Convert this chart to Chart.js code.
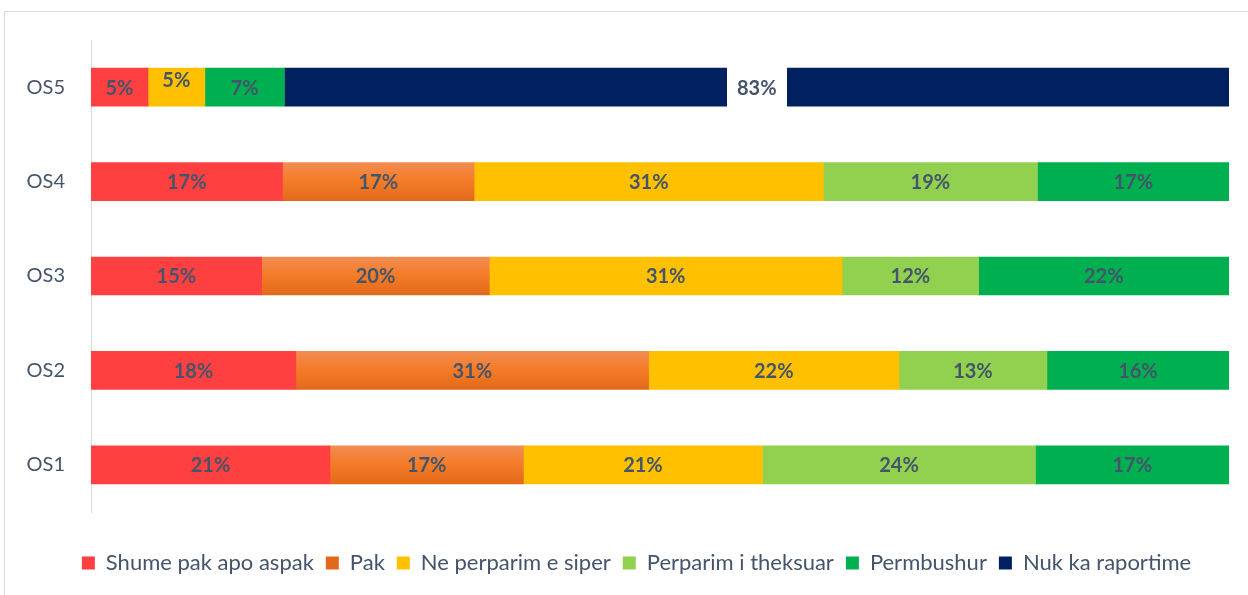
<!DOCTYPE html>
<html>
<head>
<meta charset="utf-8">
<script src="https://cdn.jsdelivr.net/npm/chart.js@4/dist/chart.umd.min.js"></script>
<style>
  html, body { margin: 0; padding: 0; background: #fff; overflow: hidden; }
  #frame { position: absolute; left: 4px; top: 11px; width: 1260px; height: 600px; border: 1px solid #D9D9D9; box-sizing: border-box; }
  #wrap { position: absolute; left: 0; top: 0; width: 1248px; height: 595px; }
</style>
</head>
<body>
<div id="frame"></div>
<div id="wrap"><canvas id="chart"></canvas></div>
<script>
const categories = ['OS5', 'OS4', 'OS3', 'OS2', 'OS1'];
const seriesNames = ['Shume pak apo aspak', 'Pak', 'Ne perparim e siper', 'Perparim i theksuar', 'Permbushur', 'Nuk ka raportime'];
const shumePak   = [5, 17, 15, 18, 21];
const pak        = [0, 17, 20, 31, 17];
const nePerparim = [5, 31, 31, 22, 21];
const theksuar   = [0, 19, 12, 13, 24];
const permbushur = [7, 17, 22, 16, 17];
const nukKa      = [83, 0, 0, 0, 0];

const colors = ['#FF4040', null, '#FFC000', '#92D050', '#00B050', '#002060'];
const labelColor = '#44546A';
const fontFamily = 'Lato, "Open Sans", sans-serif';

const rows = [shumePak, pak, nePerparim, theksuar, permbushur, nukKa];
// 100% stacked: share of each row total
const totals = categories.map((c, i) => rows.reduce((s, r) => s + r[i], 0));

function pakGradient(ctx) {
  if (ctx.type !== 'data') return '#F0803A';
  const chart = ctx.chart;
  const y = chart.scales.y;
  if (!y || !chart.chartArea) return '#F0803A';
  const cy = y.getPixelForValue(ctx.dataIndex);
  const g = chart.ctx.createLinearGradient(0, cy - 19, 0, cy + 19);
  g.addColorStop(0, '#F28C51');
  g.addColorStop(0.5, '#F47B26');
  g.addColorStop(1, '#E2691A');
  return g;
}

const datasets = rows.map((r, k) => ({
  label: seriesNames[k],
  data: r.map((v, i) => v / totals[i] * 100),
  raw: r,
  backgroundColor: k === 1 ? pakGradient : colors[k],
  borderWidth: 0,
  barThickness: 38
}));

// small label shifts as seen in the original
const labelShift = { '2-0': -8 };

const valueLabels = {
  id: 'valueLabels',
  afterDatasetsDraw(chart) {
    const c = chart.ctx;
    c.save();
    c.font = 'bold 20px ' + fontFamily;
    c.textAlign = 'center';
    c.textBaseline = 'middle';
    chart.data.datasets.forEach((ds, k) => {
      const meta = chart.getDatasetMeta(k);
      meta.data.forEach((bar, i) => {
        const v = ds.raw[i];
        if (!v) return;
        const txt = v + '%';
        const x = (bar.x + bar.base) / 2;
        const y = bar.y + (labelShift[k + '-' + i] || 0);
        if (k === 5) {
          const w = Math.round(c.measureText(txt).width + 20);
          c.fillStyle = '#fff';
          c.fillRect(Math.round(x - w / 2), Math.floor(bar.y - 20), w, 41);
        }
        c.fillStyle = labelColor;
        c.fillText(txt, x, y + 1);
      });
    });
    c.restore();
  }
};

// legend in the original sits a bit right of centre
const legendShift = {
  id: 'legendShift',
  afterLayout(chart) {
    chart.legend.left += 22;
    chart.legend.right += 22;
  }
};

new Chart(document.getElementById('chart'), {
  type: 'bar',
  data: { labels: categories, datasets: datasets },
  options: {
    indexAxis: 'y',
    responsive: true,
    maintainAspectRatio: false,
    animation: false,
    layout: { padding: { left: 0, right: 19, top: 40, bottom: 11 } },
    scales: {
      x: {
        stacked: true, min: 0, max: 100,
        grid: { display: false },
        border: { display: false },
        ticks: { display: false },
        afterFit(scale) { scale.height = 28; }
      },
      y: {
        stacked: true,
        grid: { display: false },
        border: { display: true, color: '#D9D9D9', width: 1 },
        ticks: { color: labelColor, padding: 18, font: { family: fontFamily, size: 20 } },
        afterFit(scale) { scale.width = 91; }
      }
    },
    plugins: {
      tooltip: { enabled: false },
      legend: {
        position: 'bottom',
        labels: {
          color: labelColor,
          boxWidth: 13,
          boxHeight: 13,
          padding: 12,
          font: { family: fontFamily, size: 22 }
        }
      }
    }
  },
  plugins: [valueLabels, legendShift]
});
</script>
</body>
</html>
